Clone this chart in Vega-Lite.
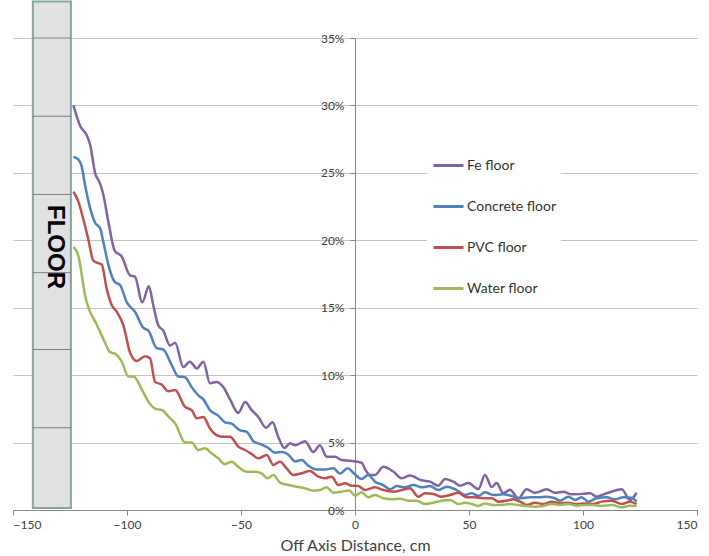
{
  "$schema": "https://vega.github.io/schema/vega-lite/v6.json",
  "description": "Off-axis dose profile above four floor materials",
  "width": 684,
  "height": 472,
  "autosize": {"type": "none"},
  "padding": {"left": 13, "top": 38, "right": 12, "bottom": 46},
  "background": "white",
  "config": {
    "view": {"stroke": null},
    "font": "Lato"
  },
  "datasets": {
    "profiles": [
      {"s": "Fe floor", "x": -123.5, "y": 30.0},
      {"s": "Fe floor", "x": -120.6, "y": 28.5},
      {"s": "Fe floor", "x": -117.7, "y": 27.8},
      {"s": "Fe floor", "x": -116.2, "y": 27.1},
      {"s": "Fe floor", "x": -114.0, "y": 25.0},
      {"s": "Fe floor", "x": -111.8, "y": 24.2},
      {"s": "Fe floor", "x": -110.4, "y": 23.4},
      {"s": "Fe floor", "x": -108.2, "y": 21.4},
      {"s": "Fe floor", "x": -105.3, "y": 19.2},
      {"s": "Fe floor", "x": -102.3, "y": 18.8},
      {"s": "Fe floor", "x": -98.7, "y": 17.4},
      {"s": "Fe floor", "x": -96.5, "y": 17.3},
      {"s": "Fe floor", "x": -93.3, "y": 15.4},
      {"s": "Fe floor", "x": -90.4, "y": 16.6},
      {"s": "Fe floor", "x": -88.5, "y": 15.2},
      {"s": "Fe floor", "x": -86.3, "y": 13.7},
      {"s": "Fe floor", "x": -84.1, "y": 13.3},
      {"s": "Fe floor", "x": -81.1, "y": 12.2},
      {"s": "Fe floor", "x": -78.9, "y": 12.4},
      {"s": "Fe floor", "x": -75.3, "y": 10.6},
      {"s": "Fe floor", "x": -72.4, "y": 11.0},
      {"s": "Fe floor", "x": -69.4, "y": 10.5},
      {"s": "Fe floor", "x": -66.5, "y": 11.0},
      {"s": "Fe floor", "x": -63.6, "y": 9.4},
      {"s": "Fe floor", "x": -60.7, "y": 9.5},
      {"s": "Fe floor", "x": -57.7, "y": 9.1},
      {"s": "Fe floor", "x": -54.8, "y": 8.2},
      {"s": "Fe floor", "x": -51.2, "y": 7.2},
      {"s": "Fe floor", "x": -48.2, "y": 8.0},
      {"s": "Fe floor", "x": -45.3, "y": 7.4},
      {"s": "Fe floor", "x": -42.4, "y": 6.9},
      {"s": "Fe floor", "x": -39.0, "y": 6.1},
      {"s": "Fe floor", "x": -36.2, "y": 6.5},
      {"s": "Fe floor", "x": -33.6, "y": 5.4},
      {"s": "Fe floor", "x": -31.0, "y": 4.6},
      {"s": "Fe floor", "x": -28.5, "y": 4.95},
      {"s": "Fe floor", "x": -26.3, "y": 4.8},
      {"s": "Fe floor", "x": -21.9, "y": 5.1},
      {"s": "Fe floor", "x": -18.3, "y": 4.3},
      {"s": "Fe floor", "x": -15.4, "y": 4.8},
      {"s": "Fe floor", "x": -12.4, "y": 3.95},
      {"s": "Fe floor", "x": -8.8, "y": 3.95},
      {"s": "Fe floor", "x": -5.8, "y": 3.7},
      {"s": "Fe floor", "x": -2.2, "y": 3.65},
      {"s": "Fe floor", "x": 2.9, "y": 3.5},
      {"s": "Fe floor", "x": 4.5, "y": 3.0},
      {"s": "Fe floor", "x": 6.6, "y": 2.6},
      {"s": "Fe floor", "x": 8.8, "y": 2.6},
      {"s": "Fe floor", "x": 12.4, "y": 3.2},
      {"s": "Fe floor", "x": 16.8, "y": 2.85},
      {"s": "Fe floor", "x": 20.5, "y": 2.35},
      {"s": "Fe floor", "x": 24.1, "y": 2.55},
      {"s": "Fe floor", "x": 29.2, "y": 2.2},
      {"s": "Fe floor", "x": 32.9, "y": 2.1},
      {"s": "Fe floor", "x": 36.5, "y": 1.8},
      {"s": "Fe floor", "x": 39.5, "y": 2.3},
      {"s": "Fe floor", "x": 43.1, "y": 2.1},
      {"s": "Fe floor", "x": 46.1, "y": 1.8},
      {"s": "Fe floor", "x": 49.7, "y": 2.0},
      {"s": "Fe floor", "x": 54.1, "y": 1.55},
      {"s": "Fe floor", "x": 57.0, "y": 2.6},
      {"s": "Fe floor", "x": 60.0, "y": 1.7},
      {"s": "Fe floor", "x": 62.1, "y": 2.0},
      {"s": "Fe floor", "x": 65.0, "y": 1.25},
      {"s": "Fe floor", "x": 68.0, "y": 1.5},
      {"s": "Fe floor", "x": 71.6, "y": 0.87},
      {"s": "Fe floor", "x": 75.3, "y": 1.53},
      {"s": "Fe floor", "x": 78.9, "y": 1.28},
      {"s": "Fe floor", "x": 84.1, "y": 1.53},
      {"s": "Fe floor", "x": 87.7, "y": 1.28},
      {"s": "Fe floor", "x": 91.4, "y": 1.36},
      {"s": "Fe floor", "x": 95.0, "y": 1.16},
      {"s": "Fe floor", "x": 100.1, "y": 1.2},
      {"s": "Fe floor", "x": 103.1, "y": 1.24},
      {"s": "Fe floor", "x": 106.0, "y": 0.99},
      {"s": "Fe floor", "x": 110.4, "y": 1.24},
      {"s": "Fe floor", "x": 117.0, "y": 1.53},
      {"s": "Fe floor", "x": 120.6, "y": 0.74},
      {"s": "Fe floor", "x": 123.5, "y": 1.28},

      {"s": "Concrete floor", "x": -123.5, "y": 26.2},
      {"s": "Concrete floor", "x": -121.4, "y": 26.0},
      {"s": "Concrete floor", "x": -119.9, "y": 25.5},
      {"s": "Concrete floor", "x": -118.4, "y": 24.1},
      {"s": "Concrete floor", "x": -116.2, "y": 22.4},
      {"s": "Concrete floor", "x": -114.0, "y": 21.3},
      {"s": "Concrete floor", "x": -111.8, "y": 20.9},
      {"s": "Concrete floor", "x": -110.4, "y": 19.9},
      {"s": "Concrete floor", "x": -108.2, "y": 18.2},
      {"s": "Concrete floor", "x": -105.3, "y": 16.9},
      {"s": "Concrete floor", "x": -103.1, "y": 16.7},
      {"s": "Concrete floor", "x": -100.1, "y": 15.4},
      {"s": "Concrete floor", "x": -96.5, "y": 14.7},
      {"s": "Concrete floor", "x": -92.8, "y": 13.5},
      {"s": "Concrete floor", "x": -90.6, "y": 13.3},
      {"s": "Concrete floor", "x": -87.0, "y": 12.0},
      {"s": "Concrete floor", "x": -84.1, "y": 11.9},
      {"s": "Concrete floor", "x": -80.4, "y": 10.75},
      {"s": "Concrete floor", "x": -77.5, "y": 9.9},
      {"s": "Concrete floor", "x": -74.6, "y": 9.85},
      {"s": "Concrete floor", "x": -71.6, "y": 9.1},
      {"s": "Concrete floor", "x": -68.7, "y": 8.5},
      {"s": "Concrete floor", "x": -66.5, "y": 8.2},
      {"s": "Concrete floor", "x": -63.6, "y": 7.4},
      {"s": "Concrete floor", "x": -60.0, "y": 7.0},
      {"s": "Concrete floor", "x": -57.0, "y": 6.5},
      {"s": "Concrete floor", "x": -54.1, "y": 6.4},
      {"s": "Concrete floor", "x": -50.4, "y": 5.9},
      {"s": "Concrete floor", "x": -47.5, "y": 5.8},
      {"s": "Concrete floor", "x": -44.6, "y": 5.1},
      {"s": "Concrete floor", "x": -41.7, "y": 4.9},
      {"s": "Concrete floor", "x": -38.0, "y": 4.6},
      {"s": "Concrete floor", "x": -35.1, "y": 4.25},
      {"s": "Concrete floor", "x": -32.1, "y": 4.3},
      {"s": "Concrete floor", "x": -29.2, "y": 4.1},
      {"s": "Concrete floor", "x": -26.3, "y": 3.6},
      {"s": "Concrete floor", "x": -23.4, "y": 3.7},
      {"s": "Concrete floor", "x": -20.5, "y": 3.3},
      {"s": "Concrete floor", "x": -16.8, "y": 3.0},
      {"s": "Concrete floor", "x": -13.2, "y": 3.0},
      {"s": "Concrete floor", "x": -9.5, "y": 3.1},
      {"s": "Concrete floor", "x": -6.6, "y": 2.7},
      {"s": "Concrete floor", "x": -3.2, "y": 3.1},
      {"s": "Concrete floor", "x": -0.7, "y": 2.75},
      {"s": "Concrete floor", "x": 2.9, "y": 2.3},
      {"s": "Concrete floor", "x": 5.8, "y": 2.6},
      {"s": "Concrete floor", "x": 8.8, "y": 2.1},
      {"s": "Concrete floor", "x": 12.4, "y": 1.85},
      {"s": "Concrete floor", "x": 15.4, "y": 1.53},
      {"s": "Concrete floor", "x": 18.3, "y": 1.78},
      {"s": "Concrete floor", "x": 21.9, "y": 1.68},
      {"s": "Concrete floor", "x": 25.6, "y": 1.85},
      {"s": "Concrete floor", "x": 29.2, "y": 1.68},
      {"s": "Concrete floor", "x": 32.9, "y": 1.78},
      {"s": "Concrete floor", "x": 36.5, "y": 1.48},
      {"s": "Concrete floor", "x": 40.2, "y": 1.73},
      {"s": "Concrete floor", "x": 44.6, "y": 1.48},
      {"s": "Concrete floor", "x": 48.2, "y": 1.11},
      {"s": "Concrete floor", "x": 51.2, "y": 1.24},
      {"s": "Concrete floor", "x": 54.1, "y": 1.04},
      {"s": "Concrete floor", "x": 57.0, "y": 1.31},
      {"s": "Concrete floor", "x": 60.7, "y": 1.11},
      {"s": "Concrete floor", "x": 65.0, "y": 1.16},
      {"s": "Concrete floor", "x": 68.7, "y": 1.04},
      {"s": "Concrete floor", "x": 72.4, "y": 0.87},
      {"s": "Concrete floor", "x": 76.8, "y": 0.94},
      {"s": "Concrete floor", "x": 80.4, "y": 0.94},
      {"s": "Concrete floor", "x": 84.1, "y": 0.99},
      {"s": "Concrete floor", "x": 87.7, "y": 0.87},
      {"s": "Concrete floor", "x": 89.9, "y": 0.69},
      {"s": "Concrete floor", "x": 93.6, "y": 0.99},
      {"s": "Concrete floor", "x": 96.5, "y": 0.74},
      {"s": "Concrete floor", "x": 99.4, "y": 0.94},
      {"s": "Concrete floor", "x": 102.3, "y": 0.62},
      {"s": "Concrete floor", "x": 106.0, "y": 0.87},
      {"s": "Concrete floor", "x": 110.4, "y": 0.94},
      {"s": "Concrete floor", "x": 114.0, "y": 0.79},
      {"s": "Concrete floor", "x": 117.7, "y": 0.94},
      {"s": "Concrete floor", "x": 121.4, "y": 0.91},
      {"s": "Concrete floor", "x": 123.5, "y": 0.62},

      {"s": "PVC floor", "x": -123.5, "y": 23.6},
      {"s": "PVC floor", "x": -121.4, "y": 22.9},
      {"s": "PVC floor", "x": -119.2, "y": 21.6},
      {"s": "PVC floor", "x": -117.0, "y": 20.1},
      {"s": "PVC floor", "x": -114.8, "y": 18.5},
      {"s": "PVC floor", "x": -112.6, "y": 18.3},
      {"s": "PVC floor", "x": -111.1, "y": 18.2},
      {"s": "PVC floor", "x": -108.9, "y": 16.4},
      {"s": "PVC floor", "x": -106.7, "y": 15.2},
      {"s": "PVC floor", "x": -104.5, "y": 14.7},
      {"s": "PVC floor", "x": -101.6, "y": 13.7},
      {"s": "PVC floor", "x": -98.7, "y": 11.7},
      {"s": "PVC floor", "x": -95.7, "y": 11.05},
      {"s": "PVC floor", "x": -92.1, "y": 11.4},
      {"s": "PVC floor", "x": -89.9, "y": 11.25},
      {"s": "PVC floor", "x": -87.7, "y": 9.5},
      {"s": "PVC floor", "x": -84.8, "y": 9.3},
      {"s": "PVC floor", "x": -81.9, "y": 8.8},
      {"s": "PVC floor", "x": -78.9, "y": 8.9},
      {"s": "PVC floor", "x": -74.6, "y": 7.66},
      {"s": "PVC floor", "x": -71.6, "y": 7.4},
      {"s": "PVC floor", "x": -69.4, "y": 6.8},
      {"s": "PVC floor", "x": -66.5, "y": 6.9},
      {"s": "PVC floor", "x": -63.6, "y": 6.05},
      {"s": "PVC floor", "x": -60.7, "y": 5.56},
      {"s": "PVC floor", "x": -57.7, "y": 5.43},
      {"s": "PVC floor", "x": -54.8, "y": 5.43},
      {"s": "PVC floor", "x": -51.2, "y": 4.7},
      {"s": "PVC floor", "x": -48.2, "y": 4.45},
      {"s": "PVC floor", "x": -45.3, "y": 4.15},
      {"s": "PVC floor", "x": -42.4, "y": 3.83},
      {"s": "PVC floor", "x": -38.7, "y": 4.08},
      {"s": "PVC floor", "x": -35.8, "y": 3.34},
      {"s": "PVC floor", "x": -32.9, "y": 3.58},
      {"s": "PVC floor", "x": -30.0, "y": 3.09},
      {"s": "PVC floor", "x": -27.1, "y": 2.6},
      {"s": "PVC floor", "x": -23.4, "y": 2.72},
      {"s": "PVC floor", "x": -19.7, "y": 2.9},
      {"s": "PVC floor", "x": -16.1, "y": 2.47},
      {"s": "PVC floor", "x": -13.2, "y": 2.35},
      {"s": "PVC floor", "x": -10.2, "y": 2.47},
      {"s": "PVC floor", "x": -7.3, "y": 1.85},
      {"s": "PVC floor", "x": -4.4, "y": 1.98},
      {"s": "PVC floor", "x": -1.4, "y": 1.8},
      {"s": "PVC floor", "x": 1.5, "y": 1.78},
      {"s": "PVC floor", "x": 4.4, "y": 1.48},
      {"s": "PVC floor", "x": 8.8, "y": 1.68},
      {"s": "PVC floor", "x": 12.4, "y": 1.48},
      {"s": "PVC floor", "x": 16.8, "y": 1.36},
      {"s": "PVC floor", "x": 20.5, "y": 1.48},
      {"s": "PVC floor", "x": 24.1, "y": 1.61},
      {"s": "PVC floor", "x": 27.8, "y": 0.99},
      {"s": "PVC floor", "x": 30.7, "y": 1.24},
      {"s": "PVC floor", "x": 34.4, "y": 1.19},
      {"s": "PVC floor", "x": 38.0, "y": 0.99},
      {"s": "PVC floor", "x": 41.7, "y": 1.11},
      {"s": "PVC floor", "x": 45.3, "y": 1.28},
      {"s": "PVC floor", "x": 49.0, "y": 0.94},
      {"s": "PVC floor", "x": 52.6, "y": 0.94},
      {"s": "PVC floor", "x": 56.3, "y": 0.87},
      {"s": "PVC floor", "x": 60.0, "y": 0.87},
      {"s": "PVC floor", "x": 62.9, "y": 0.62},
      {"s": "PVC floor", "x": 66.5, "y": 0.69},
      {"s": "PVC floor", "x": 69.4, "y": 0.79},
      {"s": "PVC floor", "x": 72.4, "y": 0.62},
      {"s": "PVC floor", "x": 75.3, "y": 0.37},
      {"s": "PVC floor", "x": 78.9, "y": 0.54},
      {"s": "PVC floor", "x": 82.6, "y": 0.44},
      {"s": "PVC floor", "x": 86.3, "y": 0.62},
      {"s": "PVC floor", "x": 89.9, "y": 0.49},
      {"s": "PVC floor", "x": 93.6, "y": 0.54},
      {"s": "PVC floor", "x": 97.2, "y": 0.44},
      {"s": "PVC floor", "x": 100.9, "y": 0.49},
      {"s": "PVC floor", "x": 104.5, "y": 0.44},
      {"s": "PVC floor", "x": 108.2, "y": 0.62},
      {"s": "PVC floor", "x": 112.6, "y": 0.69},
      {"s": "PVC floor", "x": 117.0, "y": 0.44},
      {"s": "PVC floor", "x": 120.6, "y": 0.62},
      {"s": "PVC floor", "x": 123.5, "y": 0.44},

      {"s": "Water floor", "x": -123.5, "y": 19.5},
      {"s": "Water floor", "x": -121.4, "y": 18.9},
      {"s": "Water floor", "x": -119.9, "y": 17.5},
      {"s": "Water floor", "x": -118.4, "y": 15.9},
      {"s": "Water floor", "x": -116.2, "y": 14.7},
      {"s": "Water floor", "x": -114.0, "y": 14.0},
      {"s": "Water floor", "x": -111.8, "y": 13.2},
      {"s": "Water floor", "x": -109.6, "y": 12.4},
      {"s": "Water floor", "x": -107.5, "y": 11.7},
      {"s": "Water floor", "x": -105.3, "y": 11.6},
      {"s": "Water floor", "x": -102.3, "y": 11.0},
      {"s": "Water floor", "x": -99.4, "y": 9.9},
      {"s": "Water floor", "x": -97.1, "y": 9.9},
      {"s": "Water floor", "x": -93.4, "y": 8.9},
      {"s": "Water floor", "x": -90.5, "y": 8.0},
      {"s": "Water floor", "x": -87.5, "y": 7.5},
      {"s": "Water floor", "x": -84.6, "y": 7.4},
      {"s": "Water floor", "x": -81.7, "y": 6.9},
      {"s": "Water floor", "x": -78.8, "y": 6.4},
      {"s": "Water floor", "x": -74.5, "y": 5.0},
      {"s": "Water floor", "x": -71.6, "y": 5.0},
      {"s": "Water floor", "x": -68.7, "y": 4.45},
      {"s": "Water floor", "x": -65.8, "y": 4.57},
      {"s": "Water floor", "x": -62.9, "y": 4.2},
      {"s": "Water floor", "x": -60.0, "y": 3.83},
      {"s": "Water floor", "x": -57.0, "y": 3.4},
      {"s": "Water floor", "x": -54.1, "y": 3.58},
      {"s": "Water floor", "x": -51.2, "y": 3.2},
      {"s": "Water floor", "x": -47.5, "y": 2.84},
      {"s": "Water floor", "x": -43.9, "y": 2.84},
      {"s": "Water floor", "x": -41.0, "y": 2.72},
      {"s": "Water floor", "x": -38.3, "y": 2.35},
      {"s": "Water floor", "x": -35.8, "y": 2.6},
      {"s": "Water floor", "x": -32.9, "y": 2.03},
      {"s": "Water floor", "x": -29.2, "y": 1.85},
      {"s": "Water floor", "x": -25.6, "y": 1.73},
      {"s": "Water floor", "x": -21.9, "y": 1.61},
      {"s": "Water floor", "x": -18.3, "y": 1.43},
      {"s": "Water floor", "x": -15.4, "y": 1.48},
      {"s": "Water floor", "x": -12.4, "y": 1.68},
      {"s": "Water floor", "x": -9.5, "y": 1.28},
      {"s": "Water floor", "x": -5.8, "y": 1.36},
      {"s": "Water floor", "x": -2.5, "y": 1.45},
      {"s": "Water floor", "x": 0.0, "y": 1.06},
      {"s": "Water floor", "x": 2.9, "y": 1.32},
      {"s": "Water floor", "x": 5.8, "y": 0.94},
      {"s": "Water floor", "x": 8.8, "y": 1.11},
      {"s": "Water floor", "x": 12.4, "y": 0.87},
      {"s": "Water floor", "x": 16.1, "y": 0.79},
      {"s": "Water floor", "x": 19.7, "y": 0.84},
      {"s": "Water floor", "x": 23.4, "y": 0.69},
      {"s": "Water floor", "x": 27.1, "y": 0.69},
      {"s": "Water floor", "x": 30.7, "y": 0.44},
      {"s": "Water floor", "x": 34.4, "y": 0.54},
      {"s": "Water floor", "x": 38.0, "y": 0.69},
      {"s": "Water floor", "x": 41.7, "y": 0.74},
      {"s": "Water floor", "x": 45.3, "y": 0.44},
      {"s": "Water floor", "x": 48.2, "y": 0.54},
      {"s": "Water floor", "x": 51.2, "y": 0.44},
      {"s": "Water floor", "x": 54.1, "y": 0.3},
      {"s": "Water floor", "x": 57.0, "y": 0.49},
      {"s": "Water floor", "x": 60.7, "y": 0.37},
      {"s": "Water floor", "x": 64.3, "y": 0.37},
      {"s": "Water floor", "x": 68.0, "y": 0.44},
      {"s": "Water floor", "x": 71.6, "y": 0.37},
      {"s": "Water floor", "x": 75.3, "y": 0.3},
      {"s": "Water floor", "x": 78.9, "y": 0.25},
      {"s": "Water floor", "x": 82.6, "y": 0.3},
      {"s": "Water floor", "x": 86.3, "y": 0.44},
      {"s": "Water floor", "x": 89.9, "y": 0.37},
      {"s": "Water floor", "x": 93.6, "y": 0.44},
      {"s": "Water floor", "x": 97.2, "y": 0.32},
      {"s": "Water floor", "x": 100.9, "y": 0.37},
      {"s": "Water floor", "x": 104.5, "y": 0.37},
      {"s": "Water floor", "x": 108.2, "y": 0.3},
      {"s": "Water floor", "x": 112.6, "y": 0.37},
      {"s": "Water floor", "x": 117.0, "y": 0.2},
      {"s": "Water floor", "x": 120.6, "y": 0.32},
      {"s": "Water floor", "x": 123.5, "y": 0.3}
    ],
    "floor": [
      {"left": -141.3, "right": -124.6, "bottom": 0.15, "top": 37.7, "label": "FLOOR"}
    ],
    "floorLines": [
      {"y": 35.0}, {"y": 29.2}, {"y": 23.4}, {"y": 17.6}, {"y": 11.9}, {"y": 6.1}
    ]
  },
  "layer": [
    {
      "data": {"name": "floor"},
      "mark": {"type": "rect", "fill": "#e1e1e1", "stroke": "#88a5a5", "strokeWidth": 2},
      "encoding": {
        "x": {
          "field": "left",
          "type": "quantitative",
          "scale": {"domain": [-150, 150], "nice": false},
          "axis": {
            "values": [-150, -100, -50, 0, 50, 100, 150],
            "title": "Off Axis Distance, cm",
            "grid": false,
            "domainColor": "#868686",
            "tickColor": "#868686",
            "tickSize": 5,
            "labelFont": "Lato",
            "labelFontSize": 12,
            "labelColor": "#404040",
            "labelPadding": 4,
            "titleFont": "Lato",
            "titleFontSize": 16,
            "titleFontWeight": "normal",
            "titleColor": "#404040",
            "titlePadding": 7
          }
        },
        "x2": {"field": "right"},
        "y": {
          "field": "bottom",
          "type": "quantitative",
          "scale": {"domain": [0, 35], "nice": false},
          "axis": {
            "values": [0, 5, 10, 15, 20, 25, 30, 35],
            "labelExpr": "datum.value + '%'",
            "title": null,
            "offset": -342,
            "gridColor": "#c4c4c4",
            "domainColor": "#868686",
            "tickColor": "#868686",
            "tickSize": 5,
            "labelPadding": 6,
            "labelFont": "Lato",
            "labelFontSize": 12,
            "labelColor": "#404040"
          }
        },
        "y2": {"field": "top"}
      }
    },
    {
      "data": {"name": "floorLines"},
      "mark": {"type": "rule", "stroke": "#7f7f7f", "strokeWidth": 1},
      "encoding": {
        "x": {"datum": -141.3},
        "x2": {"datum": -124.6},
        "y": {"field": "y", "type": "quantitative"}
      }
    },
    {
      "data": {"name": "floor"},
      "mark": {"type": "text", "angle": 90, "font": "Liberation Sans", "fontWeight": "bold", "fontSize": 24, "color": "black", "align": "center", "baseline": "middle"},
      "encoding": {
        "x": {"datum": -131.6},
        "y": {"datum": 19.5},
        "text": {"field": "label"}
      }
    },
    {
      "data": {"name": "profiles"},
      "mark": {"type": "line", "interpolate": "monotone", "strokeWidth": 2.5},
      "encoding": {
        "x": {"field": "x", "type": "quantitative"},
        "y": {"field": "y", "type": "quantitative"},
        "color": {
          "field": "s",
          "type": "nominal",
          "sort": null,
          "scale": {
            "domain": ["Fe floor", "Concrete floor", "PVC floor", "Water floor"],
            "range": ["#8064a2", "#4f81bd", "#c0504d", "#9bbb59"]
          },
          "legend": {
            "title": null,
            "orient": "none",
            "legendX": 414,
            "legendY": 106,
            "padding": 5,
            "fillColor": "white",
            "symbolType": "stroke",
            "symbolSize": 900,
            "symbolStrokeWidth": 3,
            "labelFont": "Lato",
            "labelFontSize": 14,
            "labelColor": "#333333",
            "labelOffset": 2,
            "rowPadding": 17
          }
        }
      }
    }
  ]
}
